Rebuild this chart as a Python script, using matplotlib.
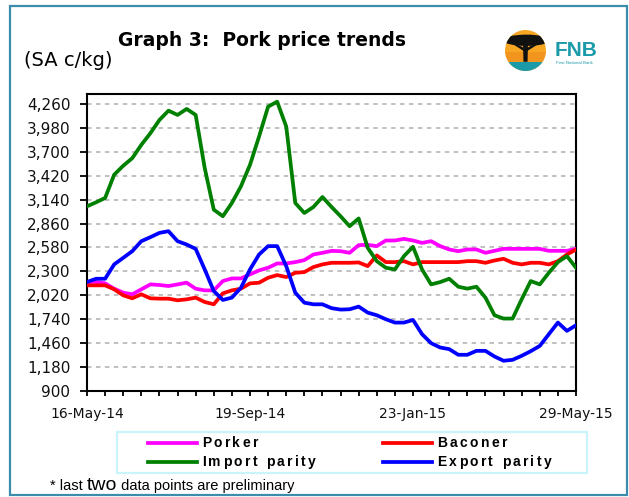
import matplotlib

matplotlib.use("Agg")

import matplotlib.pyplot as plt
from matplotlib.font_manager import FontProperties, findfont
from matplotlib.ft2font import FT2Font
from matplotlib.lines import Line2D
from matplotlib.patches import Circle, Ellipse, Polygon, Rectangle
from matplotlib.ticker import FixedLocator, FuncFormatter

W, H, DPI = 629, 497, 100

# weekly observations, 16-May-14 .. 29-May-15
weeks = list(range(55))
tick_labels = {0: "16-May-14", 18: "19-Sep-14", 36: "23-Jan-15", 54: "29-May-15"}
y_ticks = list(range(900, 4261, 280))

porker = [2176, 2176, 2160, 2098, 2051, 2032, 2090, 2148, 2141, 2129,
          2148, 2168, 2098, 2078, 2078, 2187, 2218, 2218, 2265, 2312,
          2343, 2393, 2393, 2409, 2432, 2498, 2518, 2540, 2537, 2518,
          2608, 2611, 2596, 2662, 2662, 2681, 2662, 2634, 2654, 2596,
          2557, 2537, 2557, 2557, 2518, 2541, 2564, 2564, 2564, 2564,
          2564, 2541, 2541, 2541, 2564]
baconer = [2137, 2137, 2137, 2090, 2020, 1985, 2032, 1985, 1981, 1981,
           1962, 1973, 1993, 1942, 1915, 2043, 2078, 2098, 2160, 2168,
           2226, 2257, 2234, 2284, 2292, 2351, 2382, 2401, 2401, 2401,
           2405, 2362, 2487, 2409, 2409, 2420, 2382, 2409, 2409, 2409,
           2409, 2409, 2420, 2420, 2401, 2428, 2448, 2401, 2382, 2401,
           2401, 2382, 2420, 2498, 2557]
import_parity = [3062, 3109, 3160, 3432, 3537, 3626, 3782, 3918, 4073, 4182,
                 4132, 4202, 4132, 3510, 3023, 2946, 3101, 3296, 3548, 3879,
                 4229, 4287, 3996, 3101, 2984, 3054, 3171, 3055, 2946, 2829,
                 2920, 2576, 2420, 2343, 2323, 2479, 2588, 2323, 2148, 2175,
                 2214, 2121, 2098, 2121, 1993, 1787, 1748, 1748, 1974, 2187,
                 2148, 2284, 2409, 2479, 2343]
export_parity = [2176, 2214, 2214, 2382, 2459, 2537, 2654, 2701, 2751, 2771,
                 2654, 2615, 2564, 2323, 2070, 1966, 1993, 2109, 2323, 2498,
                 2596, 2596, 2362, 2051, 1934, 1915, 1915, 1870, 1853, 1857,
                 1888, 1818, 1787, 1740, 1701, 1701, 1732, 1565, 1460, 1409,
                 1390, 1324, 1324, 1370, 1370, 1304, 1254, 1265, 1312, 1366,
                 1428, 1565, 1701, 1604, 1670]

series = [
    ("Porker", porker, "#FF00FF"),
    ("Baconer", baconer, "#FF0000"),
    ("Import parity", import_parity, "#008000"),
    ("Export parity", export_parity, "#0000FF"),
]


def fx(px):
    return px / W


def fy(py):
    return 1 - py / H


def advance_px(s, fp):
    """Sum of glyph advances in pixels (spaces included, unlike ink extents)."""
    font = FT2Font(findfont(fp))
    font.set_size(fp.get_size_in_points(), DPI)
    return sum(font.load_char(ord(ch)).linearHoriAdvance / 65536 for ch in s)


def tracked_text(fig, x_px, y_px, s, fp, tracking_px):
    """Excel-style letter-spaced label, one glyph at a time."""
    x = x_px
    for ch in s:
        fig.text(fx(x), fy(y_px), ch, fontproperties=fp, va="center", ha="left")
        x += advance_px(ch, fp) + tracking_px


fig = plt.figure(figsize=(W / DPI, H / DPI), dpi=DPI)
ax = fig.add_axes([fx(87), fy(391), fx(576) - fx(87), fy(94) - fy(391)])

for name, ys, color in series:
    ax.plot(weeks, ys, color=color, linewidth=2.7, solid_joinstyle="round", zorder=3)

ax.set_xlim(weeks[0], weeks[-1])
ax.set_ylim(900, 4377)
ax.yaxis.set_major_locator(FixedLocator(y_ticks))
ax.yaxis.set_major_formatter(FuncFormatter(lambda v, _: f"{int(v):,}"))
ax.xaxis.set_major_locator(FixedLocator(list(tick_labels)))
ax.xaxis.set_major_formatter(FuncFormatter(lambda v, _: tick_labels.get(int(round(v)), "")))
ax.xaxis.set_minor_locator(FixedLocator(weeks[::2]))
ax.yaxis.grid(True, color="#C0C0C0", linestyle=(0, (2.3, 2.3)), linewidth=1.4, zorder=0)
ax.set_axisbelow(True)
ax.tick_params(axis="y", direction="out", length=5, width=1.3, pad=7,
               labelsize=11, labelcolor="#111111")
ax.tick_params(axis="x", which="both", direction="out", length=3.5, width=1.3, pad=8,
               labelsize=10, labelcolor="#111111")
for sp in ax.spines.values():
    sp.set_linewidth(1.5)
    sp.set_color("black")

# headings
fig.text(fx(118), fy(40), "Graph 3:  Pork price trends", fontsize=13.5, fontweight="bold",
         family="DejaVu Sans", va="center", ha="left")
fig.text(fx(24), fy(61), "(SA c/kg)", fontsize=14, family="DejaVu Sans",
         va="center", ha="left")

# FNB logo
lax = fig.add_axes([fx(503), fy(72), fx(548) - fx(503), fy(29) - fy(72)])
lax.set_xlim(-1.05, 1.05)
lax.set_ylim(-1.05, 1.05)
lax.set_aspect("equal")
lax.axis("off")
disc = Circle((0, 0), 1, facecolor="#F6A623", edgecolor="none")
lax.add_patch(disc)
for patch in [
    Rectangle((-1.1, -1.1), 2.2, 0.55, facecolor="#1B9AAA", edgecolor="none"),
    Rectangle((-1.1, -0.55), 2.2, 0.5, facecolor="#F08A1C", edgecolor="none", alpha=0.6),
    Ellipse((0.05, 0.5), 2.3, 0.55, facecolor="#111111", edgecolor="none"),
    Polygon([(-0.12, 0.3), (0.12, 0.3), (0.1, -0.55), (-0.1, -0.55)],
            facecolor="#111111", edgecolor="none"),
    Polygon([(-0.05, -0.05), (-0.6, 0.3), (-0.5, 0.36), (0.0, 0.08)],
            facecolor="#111111", edgecolor="none"),
    Polygon([(0.05, -0.05), (0.6, 0.3), (0.5, 0.36), (0.0, 0.08)],
            facecolor="#111111", edgecolor="none"),
]:
    lax.add_patch(patch)
    patch.set_clip_path(disc)
fig.text(fx(555), fy(50), "FNB", fontsize=15, fontweight="bold", color="#1B9AAA",
         family="Liberation Sans", va="center", ha="left")
fig.text(fx(556), fy(63), "First National Bank", fontsize=3.2, color="#1B9AAA",
         family="Liberation Sans", va="center", ha="left")

# legend box
fig.add_artist(Rectangle((fx(117), fy(473)), fx(587) - fx(117), fy(432) - fy(473),
                         transform=fig.transFigure, facecolor="none",
                         edgecolor="#C8F4FA", linewidth=1.6))
leg_fp = FontProperties(family="Liberation Sans", weight="bold", size=10)
leg_pos = [(148, 443), (383, 443), (148, 462), (383, 462)]
for (name, _, color), (lx, ly) in zip(series, leg_pos):
    fig.add_artist(Line2D([fx(lx), fx(lx + 49)], [fy(ly), fy(ly)], color=color,
                          linewidth=2.7, transform=fig.transFigure))
    tracked_text(fig, lx + 54, ly, name, leg_fp, 2.4)

# footnote with the larger "two"
foot_fp = FontProperties(family="Liberation Sans", size=10.5)
big_fp = FontProperties(family="Liberation Sans", size=14)
x = 50
for part, fp in [("* last ", foot_fp), ("two", big_fp), (" data points are preliminary", foot_fp)]:
    fig.text(fx(x), fy(490), part, fontproperties=fp, va="baseline", ha="left")
    x += advance_px(part, fp)

# outer frame
fig.add_artist(Rectangle((fx(10), fy(495)), fx(627) - fx(10), fy(6) - fy(495),
                         transform=fig.transFigure, facecolor="none",
                         edgecolor="#3C8DAD", linewidth=1.6, zorder=10))

fig.savefig("out.png", dpi=DPI)
